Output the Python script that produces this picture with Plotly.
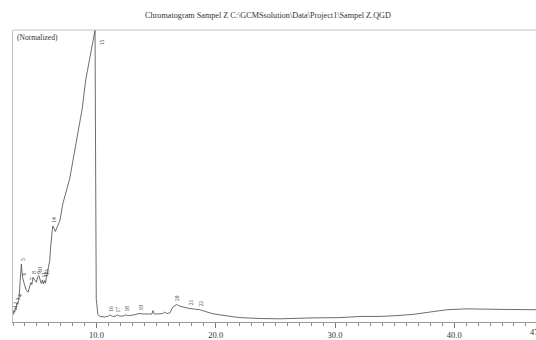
import plotly.graph_objects as go

# Retention time (min) and normalized intensity
times = [3.02, 3.08, 3.14, 3.20, 3.26, 3.32, 3.40, 3.45, 3.52, 3.60, 3.70, 3.76, 3.82, 3.95,
         4.10, 4.26, 4.40, 4.50, 4.58, 4.68, 4.80, 4.96, 5.08, 5.18, 5.30, 5.38, 5.47, 5.55,
         5.65, 5.72, 5.80, 5.90, 6.00, 6.08, 6.16, 6.22, 6.33, 6.45, 6.55, 6.70, 6.92, 7.19,
         7.45, 7.76, 8.10, 8.45, 8.80, 9.10, 9.43, 9.69, 9.88, 9.92, 9.95, 9.98, 10.11, 10.27,
         10.69, 11.00, 11.11, 11.25, 11.36, 11.60, 11.76, 11.90, 12.04, 12.30, 12.45, 12.60,
         12.79, 13.20, 13.57, 13.80, 14.05, 14.64, 14.74, 14.85, 15.56, 15.73, 15.89, 16.15,
         16.40, 16.71, 16.98, 17.40, 17.82, 18.24, 18.66, 19.20, 19.78, 20.76, 22.02, 23.70,
         25.37, 28.14, 30.40, 32.08, 33.76, 35.20, 36.53, 37.95, 39.36, 40.98, 42.15, 44.33,
         46.85]
intensity = [2.5, 4.0, 3.3, 5.0, 4.2, 6.5, 6.0, 7.5, 9.0, 14.0, 19.8, 17.0, 15.0, 13.0,
             11.0, 10.2, 12.0, 13.5, 12.8, 15.3, 14.5, 13.6, 15.5, 15.9, 14.0, 13.2, 14.4, 13.0,
             14.2, 13.3, 15.3, 17.0, 19.0, 21.0, 26.0, 29.0, 32.9, 32.0, 31.0, 32.5, 34.6, 40.7,
             44.5, 49.2, 57.0, 65.1, 73.0, 83.0, 89.8, 96.0, 100.0, 60.0, 20.0, 8.0, 2.7, 1.9,
             1.7, 2.0, 2.4, 2.0, 1.9, 2.0, 2.4, 2.1, 2.0, 2.1, 2.5, 2.2,
             2.2, 2.5, 2.9, 2.8, 2.7, 2.7, 3.9, 2.7, 2.9, 3.4, 2.9, 3.1,
             5.1, 6.0, 5.4, 4.9, 4.6, 4.4, 4.2, 3.5, 2.8, 2.2, 1.5, 1.2,
             1.1, 1.4, 1.5, 1.9, 1.9, 2.2, 2.6, 3.4, 4.2, 4.5, 4.5, 4.3,
             4.2]

# Peak numbers and their positions (retention time, intensity at apex)
peak_nums = [1, 2, 3, 4, 5, 6, 7, 8, 9, 10, 11, 12, 13, 14, 15, 16, 17, 18, 19, 20, 21, 22]
peak_times = [3.08, 3.20, 3.32, 3.45, 3.70, 3.82, 4.50, 4.68, 5.08, 5.18, 5.47, 5.65, 5.80,
              6.33, 9.88, 11.11, 11.76, 12.45, 13.57, 16.71, 17.82, 18.66]
peak_vals = [4.0, 5.0, 6.5, 7.5, 19.8, 15.0, 13.5, 15.3, 15.5, 15.9, 14.4, 14.2, 15.3,
             32.9, 100.0, 2.4, 2.4, 2.5, 2.9, 6.0, 4.6, 4.2]

x_min, x_max = 3.0, 46.85
y_min, y_max = 0.0, 100.0
major_ticks = [10, 20, 30, 40]
end_tick = 47.0

title_text = "Chromatogram Sampel Z C:\\GCMSsolution\\Data\\Project1\\Sampel Z.QGD"
serif = "Liberation Serif, Times New Roman, serif"

fig = go.Figure()
fig.add_trace(go.Scatter(x=times, y=intensity, mode="lines",
                         line=dict(color="#474747", width=0.8),
                         hoverinfo="skip", showlegend=False))

for n, t, v in zip(peak_nums, peak_times, peak_vals):
    top = v > 95
    fig.add_annotation(x=t, y=(97.5 if top else v), xref="x", yref="y",
                       text=str(n), textangle=-90, showarrow=False,
                       xanchor="left" if top else "center",
                       yanchor="top" if top else "bottom",
                       xshift=2 if top else 1, yshift=0 if top else 1,
                       font=dict(family=serif, size=5.5, color="#444"))

# end-of-axis label (partially outside the window, as in the reference)
fig.add_annotation(x=(end_tick - x_min) / (x_max - x_min), y=0, xref="paper", yref="paper",
                   text="%.1f" % end_tick, showarrow=False, xanchor="center", yanchor="top",
                   yshift=-3, font=dict(family=serif, size=8.5, color="#333"))

fig.add_annotation(x=0.004, y=0.995, xref="paper", yref="paper", text="(Normalized)",
                   showarrow=False, xanchor="left", yanchor="top",
                   font=dict(family=serif, size=7.5, color="#333"))

fig.add_shape(type="line", xref="paper", yref="paper", x0=0, x1=1, y0=1, y1=1,
              line=dict(color="#c4c4c4", width=1))

fig.update_layout(
    width=536, height=340,
    margin=dict(l=13, r=0, t=30, b=15),
    paper_bgcolor="white", plot_bgcolor="white",
    title=dict(text=title_text, x=0.5, xanchor="center", y=0.955, yanchor="middle",
               font=dict(family=serif, size=8.2, color="#333")),
    xaxis=dict(range=[x_min, x_max], showgrid=False, zeroline=False,
               showline=True, linecolor="#9a9a9a", linewidth=1,
               tickvals=major_ticks, ticktext=["%.1f" % v for v in major_ticks],
               ticks="outside", ticklen=5, tickcolor="#777", tickwidth=1,
               tickfont=dict(family=serif, size=8.5, color="#333"),
               minor=dict(dtick=1, tick0=0, ticks="outside", ticklen=3,
                          tickcolor="#888", tickwidth=1)),
    yaxis=dict(range=[y_min, y_max], showgrid=False, zeroline=False,
               showline=True, linecolor="#c4c4c4", linewidth=1,
               showticklabels=False, ticks=""),
)

fig.write_html("out.html")
